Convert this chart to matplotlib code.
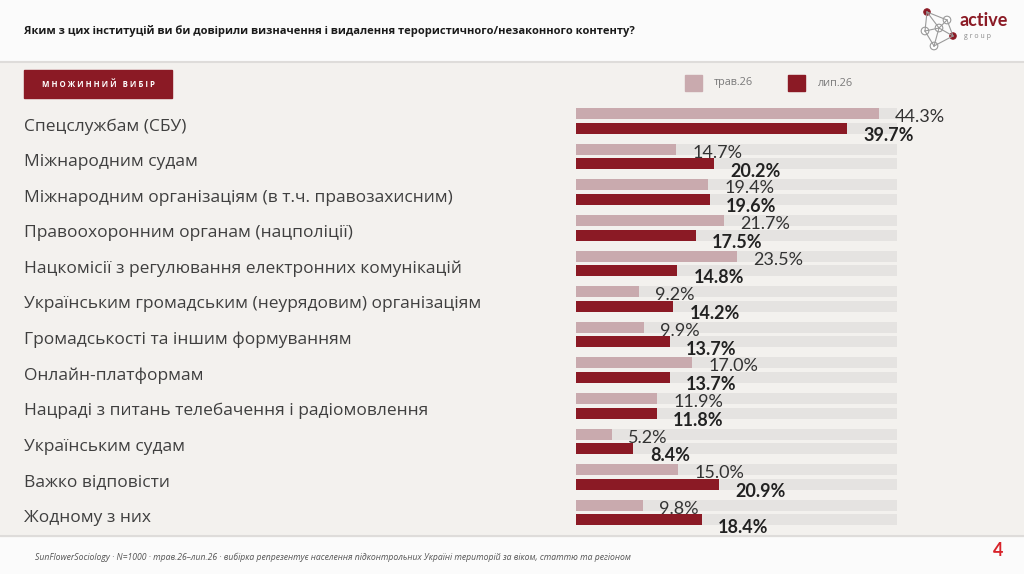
import matplotlib
matplotlib.use("Agg")
import matplotlib.pyplot as plt
from matplotlib.patches import Rectangle, Circle
from matplotlib.transforms import blended_transform_factory

plt.rcParams["font.family"] = ["Open Sans", "DejaVu Sans"]

# data
categories = [
    "Спецслужбам (СБУ)",
    "Міжнародним судам",
    "Міжнародним організаціям (в т.ч. правозахисним)",
    "Правоохоронним органам (нацполіції)",
    "Нацкомісії з регулювання електронних комунікацій",
    "Українським громадським (неурядовим) організаціям",
    "Громадськості та іншим формуванням",
    "Онлайн-платформам",
    "Нацраді з питань телебачення і радіомовлення",
    "Українським судам",
    "Важко відповісти",
    "Жодному з них",
]
may_vals = [44.3, 14.7, 19.4, 21.7, 23.5, 9.2, 9.9, 17.0, 11.9, 5.2, 15.0, 9.8]
jul_vals = [39.7, 20.2, 19.6, 17.5, 14.8, 14.2, 13.7, 13.7, 11.8, 8.4, 20.9, 18.4]
series_names = ["трав.26", "лип.26"]
track_max = 47

title = "Яким з цих інституцій ви би довірили визначення і видалення терористичного/незаконного контенту?"
badge = "М Н О Ж И Н Н И Й   В И Б І Р"
footer = ("SunFlowerSociology · N=1000 · трав.26–лип.26 · вибірка репрезентує населення "
          "підконтрольних Україні територій за віком, статтю та регіоном")

LIGHT = "#c9aaae"
DARK = "#8b1a25"
TRACK = "#e5e3e1"
BG = "#f3f1ee"
NUM_FONT = ["Lato", "Noto Sans", "DejaVu Sans"]

W, H = 1024, 574
fig = plt.figure(figsize=(W / 100, H / 100), dpi=100)
fig.patch.set_facecolor("#fbfbfb")

# overlay in pixel coords for page decoration
deco = fig.add_axes([0, 0, 1, 1])
deco.set_xlim(0, W)
deco.set_ylim(H, 0)
deco.axis("off")
deco.add_patch(Rectangle((0, 62), W, 474, color=BG, zorder=0))
deco.plot([0, W], [62, 62], color="#dedcda", lw=1.5)
deco.plot([0, W], [536, 536], color="#dedcda", lw=1.5)

deco.text(24, 31, title, fontsize=8.0, fontweight="bold", color="#1a1a1a",
          va="center", ha="left")

# badge
deco.add_patch(Rectangle((24, 70), 148, 28, color=DARK, zorder=1))
deco.text(98, 84.5, badge, fontsize=5.6, fontweight="bold", color="white",
          ha="center", va="center", zorder=2)

# legend
deco.add_patch(Rectangle((685, 75), 17, 16, color=LIGHT))
deco.text(714, 83, series_names[0], fontsize=7.8, color="#7a7a7a", va="center")
deco.add_patch(Rectangle((788, 75), 17, 16, color=DARK))
deco.text(818, 83, series_names[1], fontsize=7.8, color="#7a7a7a", va="center")

# logo
nodes = [(927, 12), (939, 28), (925, 31), (934, 46), (953, 36), (947, 20)]
edges = [(0, 1), (0, 2), (1, 2), (1, 3), (2, 3), (1, 4), (3, 4), (1, 5), (0, 5), (4, 5)]
for a, b in edges:
    deco.plot([nodes[a][0], nodes[b][0]], [nodes[a][1], nodes[b][1]],
              color="#9a9a9a", lw=0.8)
for k, (x, y) in enumerate(nodes):
    red = k in (0, 4)
    deco.add_patch(Circle((x, y), 3.2 if red else 3.8,
                          facecolor=DARK if red else "white",
                          edgecolor=DARK if red else "#9a9a9a", lw=0.8))
deco.text(960, 21, "active", fontsize=13, fontweight="bold", color=DARK,
          va="center", family=NUM_FONT)
deco.text(964, 36, "g r o u p", fontsize=5, color="#8a8a8a", va="center")

deco.text(35, 557, footer, fontsize=6.2, style="italic", color="#555555",
          va="center")
deco.text(998, 551, "4", fontsize=13, fontweight="bold", color="#d8232a",
          ha="center", va="center", family=NUM_FONT)

# bar axes
x0, x1 = 576, 897
row0, step = 121, 35.6
top = row0 - step / 2
bottom = row0 + step * (len(categories) - 0.5)
ax = fig.add_axes([x0 / W, 1 - bottom / H, (x1 - x0) / W, (bottom - top) / H])
ax.set_xlim(0, track_max)
ax.set_ylim(len(categories) - 0.5, -0.5)
ax.axis("off")
ax.patch.set_alpha(0)

n = len(categories)
ys = list(range(n))
h = 11 / step
off = 7.3 / step
y_may = [y - off for y in ys]
y_jul = [y + off for y in ys]
ax.barh(y_may, [track_max] * n, height=h, color=TRACK, zorder=1)
ax.barh(y_jul, [track_max] * n, height=h, color=TRACK, zorder=1)
ax.barh(y_may, may_vals, height=h, color=LIGHT, zorder=2)
ax.barh(y_jul, jul_vals, height=h, color=DARK, zorder=2)

pad = 2.4
for y, v in zip(y_may, may_vals):
    ax.text(v + pad, y + 0.1, f"{v:.1f}%", fontsize=13, color="#333333",
            va="center", ha="left", zorder=3, family=NUM_FONT)
for y, v in zip(y_jul, jul_vals):
    ax.text(v + pad, y + 0.2, f"{v:.1f}%", fontsize=13, fontweight="bold",
            color="#222222", va="center", ha="left", zorder=3, family=NUM_FONT)

tr = blended_transform_factory(fig.transFigure, ax.transData)
for y, c in zip(ys, categories):
    ax.text(24 / W, y + 0.15, c, transform=tr, fontsize=12.5, color="#3f3f3f",
            va="center", ha="left")

fig.savefig("out.png", dpi=100, facecolor=fig.get_facecolor())
